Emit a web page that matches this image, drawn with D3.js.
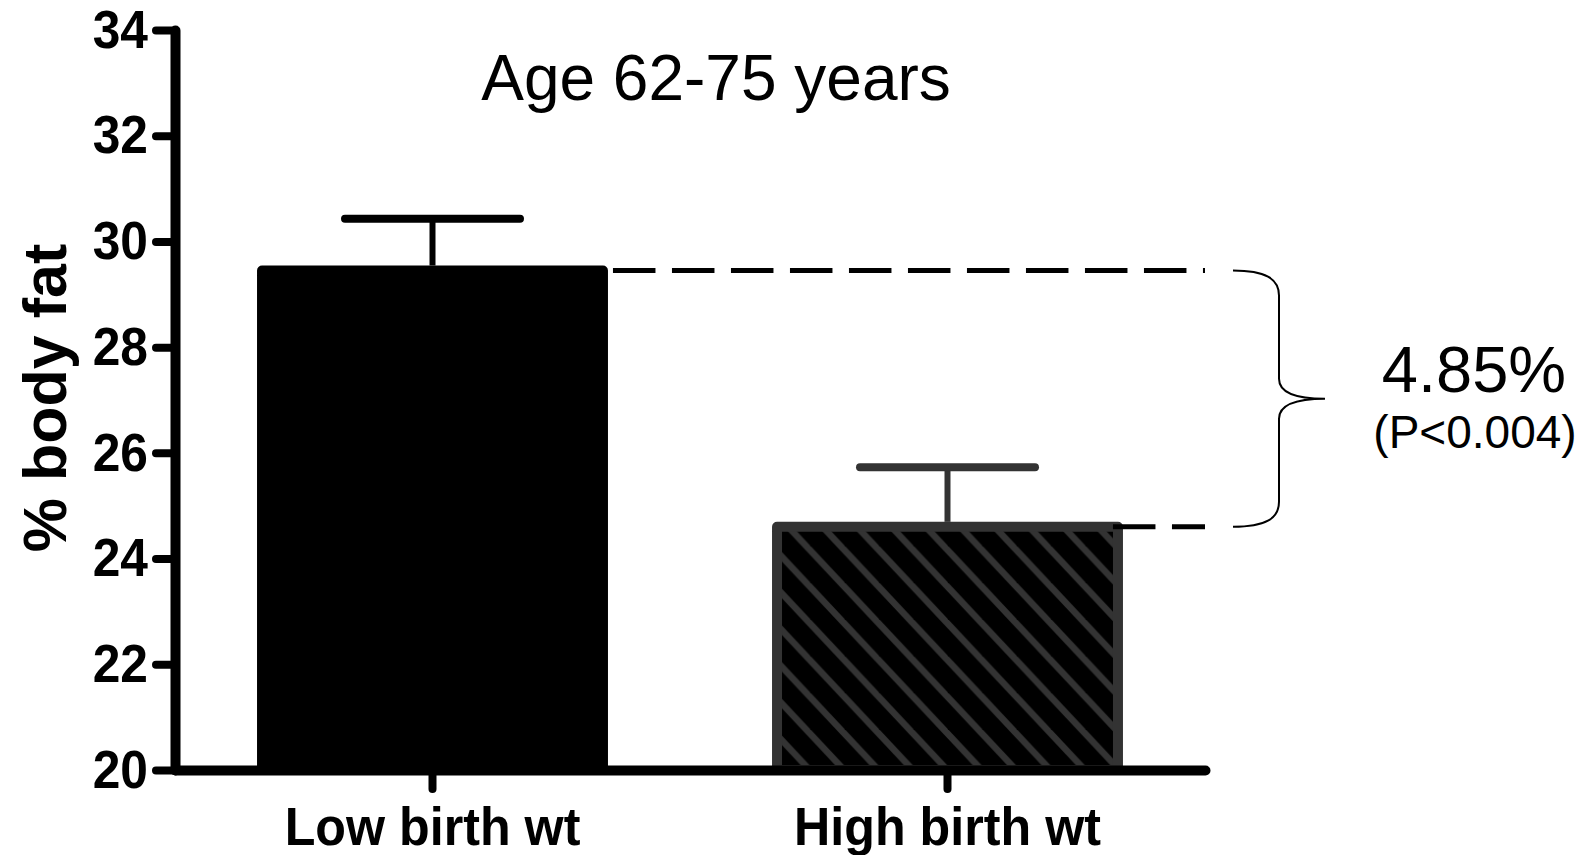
<!DOCTYPE html>
<html>
<head>
<meta charset="utf-8">
<script src="https://cdn.jsdelivr.net/npm/d3@7"></script>
<style>
  body { margin: 0; background: #fff; }
  svg { display: block; }
</style>
</head>
<body>
<script>
// chart values
var categories = ["Low birth wt", "High birth wt"];
var means = [29.45, 24.6];
var sems = [0.98, 1.13];
var yTicks = [20, 22, 24, 26, 28, 30, 32, 34];
var titleText = "Age 62-75 years";
var yLabel = "% body fat";
var diffLabel = "4.85%";
var pLabel = "(P<0.004)";

var w = 1590, h = 855;

var svg = d3.select("body").append("svg")
    .attr("width", w)
    .attr("height", h);

// scales
var xScale = d3.scaleBand().domain(categories)
    .range([175, 1205])
    .paddingInner(0.338)
    .paddingOuter(0.169);

var yScale = d3.scaleLinear().domain([20, 34])
    .range([770, 30]);

// hatch pattern for the second bar
var pw = 34.4, ph = 36.7;
var defs = svg.append("defs");
var pat = defs.append("pattern")
    .attr("id", "hatch")
    .attr("patternUnits", "userSpaceOnUse")
    .attr("x", 19.2)
    .attr("y", 0)
    .attr("width", pw)
    .attr("height", ph);
pat.append("rect").attr("width", pw).attr("height", ph).attr("fill", "#000");
[-1, 0, 1].forEach(function(k){
    pat.append("line")
        .attr("x1", k*pw - pw).attr("y1", -ph)
        .attr("x2", k*pw + 2*pw).attr("y2", 2*ph)
        .attr("stroke", "#333")
        .attr("stroke-width", 6.5);
});

// squeeze bold labels a bit (condensed look)
function squeeze(sel, f){
    sel.each(function(){
        var len = this.getComputedTextLength();
        d3.select(this).attr("textLength", len*f).attr("lengthAdjust", "spacingAndGlyphs");
    });
}

// bars
var fills = ["#000", "url(#hatch)"];
var strokes = ["#000", "#333"];

svg.selectAll("rect.bar")
    .data(means)
    .enter()
    .append("rect")
    .attr("class", "bar")
    .attr("x", function(d, i){ return xScale(categories[i]); })
    .attr("y", function(d){ return yScale(d); })
    .attr("width", xScale.bandwidth())
    .attr("height", function(d){ return yScale(20) - yScale(d); })
    .attr("fill", function(d, i){ return fills[i]; })
    .attr("stroke", function(d, i){ return strokes[i]; })
    .attr("stroke-width", 10)
    .attr("stroke-linejoin", "round");

// error bars (upper only)
var capW = 175;
means.forEach(function(m, i){
    var cx = xScale(categories[i]) + xScale.bandwidth()/2;
    var col = strokes[i];
    svg.append("line")
        .attr("x1", cx).attr("x2", cx)
        .attr("y1", yScale(m) - 5).attr("y2", yScale(m + sems[i]))
        .attr("stroke", col).attr("stroke-width", 6);
    svg.append("line")
        .attr("x1", cx - capW/2).attr("x2", cx + capW/2)
        .attr("y1", yScale(m + sems[i])).attr("y2", yScale(m + sems[i]))
        .attr("stroke", col).attr("stroke-width", 8)
        .attr("stroke-linecap", "round");
});

// dashed reference lines
var xEnd = xScale.range()[1];
var bw = xScale.bandwidth();
var dashStarts = [xScale(categories[0]) + bw + 10, xScale(categories[1]) + bw - 5];
means.forEach(function(m, i){
    svg.append("line")
        .attr("x1", dashStarts[i]).attr("x2", xEnd)
        .attr("y1", yScale(m)).attr("y2", yScale(m))
        .attr("stroke", "#000")
        .attr("stroke-width", 5)
        .attr("stroke-dasharray", "42.5,16.5");
});

// brace between the two means
var yTop = yScale(means[0]), yBot = yScale(means[1]), yMid = (yTop + yBot)/2;
var bx0 = 1233, bx1 = 1279, bx2 = 1325;
var brace = "M" + bx0 + "," + yTop +
    " C" + (bx0 + 32) + "," + yTop + " " + bx1 + "," + (yTop + 8) + " " + bx1 + "," + (yTop + 25) +
    " L" + bx1 + "," + (yMid - 20) +
    " C" + bx1 + "," + (yMid - 6) + " " + (bx1 + 16) + "," + yMid + " " + bx2 + "," + yMid +
    " C" + (bx1 + 16) + "," + yMid + " " + bx1 + "," + (yMid + 6) + " " + bx1 + "," + (yMid + 20) +
    " L" + bx1 + "," + (yBot - 25) +
    " C" + bx1 + "," + (yBot - 8) + " " + (bx0 + 32) + "," + yBot + " " + bx0 + "," + yBot;
svg.append("path")
    .attr("d", brace)
    .attr("fill", "none")
    .attr("stroke", "#000")
    .attr("stroke-width", 2);

svg.append("text")
    .attr("x", 1474).attr("y", 392)
    .attr("text-anchor", "middle")
    .attr("font-family", "Liberation Sans, Arial, sans-serif")
    .attr("font-size", 65)
    .text(diffLabel);

svg.append("text")
    .attr("x", 1475).attr("y", 448)
    .attr("text-anchor", "middle")
    .attr("font-family", "Liberation Sans, Arial, sans-serif")
    .attr("font-size", 46)
    .text(pLabel);

// axes
var xAxis = d3.axisBottom(xScale).tickSize(19).tickSizeOuter(0).tickPadding(18);
var yAxis = d3.axisLeft(yScale).tickValues(yTicks).tickSize(19).tickSizeOuter(0).tickPadding(8);

var gx = svg.append("g")
    .attr("transform", "translate(0,770)")
    .call(xAxis);

var gy = svg.append("g")
    .attr("transform", "translate(175,0)")
    .call(yAxis);

[gx, gy].forEach(function(g){
    g.select(".domain")
        .attr("stroke", "#000")
        .attr("stroke-width", 10)
        .attr("stroke-linecap", "round");
    g.selectAll(".tick line")
        .attr("stroke", "#000")
        .attr("stroke-width", 8)
        .attr("stroke-linecap", "round");
    g.selectAll(".tick text")
        .attr("fill", "#000")
        .attr("font-family", "Liberation Sans, Arial, sans-serif")
        .attr("font-weight", "bold")
        .attr("font-size", 54);
});

squeeze(gx.selectAll(".tick text"), 0.93);
squeeze(gy.selectAll(".tick text"), 0.92);

// title
svg.append("text")
    .attr("x", 716).attr("y", 100)
    .attr("text-anchor", "middle")
    .attr("font-family", "Liberation Sans, Arial, sans-serif")
    .attr("font-size", 64)
    .text(titleText);

// y label
svg.append("text")
    .attr("transform", "translate(66,398) rotate(-90)")
    .attr("text-anchor", "middle")
    .attr("font-family", "Liberation Sans, Arial, sans-serif")
    .attr("font-weight", "bold")
    .attr("font-size", 61)
    .text(yLabel);
</script>
</body>
</html>
